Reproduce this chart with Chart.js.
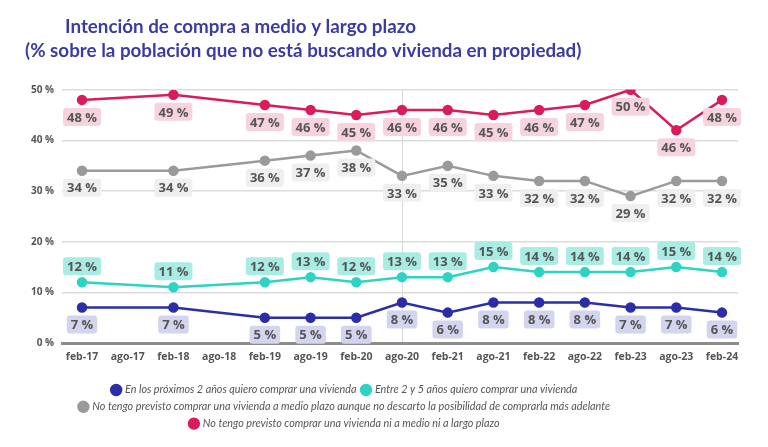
<!DOCTYPE html>
<html>
<head>
<meta charset="utf-8">
<script src="https://cdn.jsdelivr.net/npm/chart.js@4.4.1/dist/chart.umd.min.js"></script>
<style>
  html, body { margin: 0; padding: 0; background: #fff; }
</style>
</head>
<body>
<canvas id="compraChart" width="768" height="447"></canvas>
<script>
const periods = ['feb-17','ago-17','feb-18','ago-18','feb-19','ago-19','feb-20','ago-20','feb-21','ago-21','feb-22','ago-22','feb-23','ago-23','feb-24'];

// % por grupo, null = sin dato en esa oleada
const proximos2 = [7, null, 7, null, 5, 5, 5, 8, 6, 8, 8, 8, 7, 7, 6];
const entre2y5 = [12, null, 11, null, 12, 13, 12, 13, 13, 15, 14, 14, 14, 15, 14];
const noMedioPlazo = [34, null, 34, null, 36, 37, 38, 33, 35, 33, 32, 32, 29, 32, 32];
const noNunca = [48, null, 49, null, 47, 46, 45, 46, 46, 45, 46, 47, 50, 42, 48];
// la etiqueta de ago-23 en el original pone 46 % aunque el punto esta en 42
const noNuncaLabels = ['48 %', '', '49 %', '', '47 %', '46 %', '45 %', '46 %', '46 %', '45 %', '46 %', '47 %', '50 %', '46 %', '48 %'];

const yTicks = [0, 10, 20, 30, 40, 50];

const tituloTxt = 'Intención de compra a medio y largo plazo';
const subtituloTxt = '(% sobre la población que no está buscando vivienda en propiedad)';

function pct(arr) {
    return arr.map(v => v == null ? '' : v + ' %');
}

const labelPlugin = {
    id: 'pctLabels',
    afterDatasetsDraw(chart) {
        const ctx = chart.ctx;
        ctx.save();
        ctx.font = 'bold 13px "Open Sans", sans-serif';
        ctx.textAlign = 'center';
        ctx.textBaseline = 'middle';
        chart.data.datasets.forEach((ds, i) => {
            const meta = chart.getDatasetMeta(i);
            meta.data.forEach((pt, j) => {
                const txt = ds.pctText[j];
                if (!txt) return;
                const w = ctx.measureText(txt).width + 8;
                const h = 18;
                const cy = ds.labelPos === 'above' ? pt.y - 16 : pt.y + 17;
                const x0 = pt.x - w / 2, y0 = cy - h / 2, r = 3;
                ctx.fillStyle = ds.labelBg;
                ctx.beginPath();
                ctx.moveTo(x0 + r, y0);
                ctx.lineTo(x0 + w - r, y0);
                ctx.quadraticCurveTo(x0 + w, y0, x0 + w, y0 + r);
                ctx.lineTo(x0 + w, y0 + h - r);
                ctx.quadraticCurveTo(x0 + w, y0 + h, x0 + w - r, y0 + h);
                ctx.lineTo(x0 + r, y0 + h);
                ctx.quadraticCurveTo(x0, y0 + h, x0, y0 + h - r);
                ctx.lineTo(x0, y0 + r);
                ctx.quadraticCurveTo(x0, y0, x0 + r, y0);
                ctx.fill();
                ctx.fillStyle = '#555555';
                ctx.fillText(txt, pt.x, cy + 1);
            });
        });
        ctx.restore();
    }
};

function moveBox(box, dx, dy) {
    if (!box) return;
    box.left += dx; box.right += dx;
    box.top += dy; box.bottom += dy;
}

// mover titulo, subtitulo y leyenda como en el original
const shiftPlugin = {
    id: 'shiftBoxes',
    afterLayout(chart) {
        chart.boxes.forEach(b => {
            if (!b.options || b === chart.legend) return;
            if (b.options.text === tituloTxt) moveBox(b, 57, 0);
            if (b.options.text === subtituloTxt) moveBox(b, 17, 0);
        });
        moveBox(chart.legend, -28, 7);
    }
};

function serie(label, data, color, bg, pos, texts) {
    return {
        label: label,
        data: data,
        borderColor: color,
        backgroundColor: color,
        pointBackgroundColor: color,
        pointBorderColor: color,
        borderWidth: 2.5,
        pointRadius: 4,
        tension: 0,
        spanGaps: true,
        labelBg: bg,
        labelPos: pos,
        pctText: texts || pct(data)
    };
}

const titleFont = { family: 'Lato', size: 18.8, weight: 'bold', lineHeight: 1.27 };

new Chart(document.getElementById('compraChart'), {
    type: 'line',
    data: {
        labels: periods,
        datasets: [
            serie('En los próximos 2 años quiero comprar una vivienda', proximos2, '#2b2ea6', '#d3d4ee', 'below'),
            serie('Entre 2 y 5 años quiero comprar una vivienda', entre2y5, '#2ed3c3', '#a9ece4', 'above'),
            serie('No tengo previsto comprar una vivienda a medio plazo aunque no descarto la posibilidad de comprarla más adelante', noMedioPlazo, '#9a9a9a', '#efefef', 'below'),
            serie('No tengo previsto comprar una vivienda ni a medio ni a largo plazo', noNunca, '#da1b5c', '#f7d3de', 'below', noNuncaLabels)
        ]
    },
    plugins: [labelPlugin, shiftPlugin],
    options: {
        responsive: false,
        animation: false,
        devicePixelRatio: 1,
        layout: { padding: { left: 8, right: 30, top: 10, bottom: 15 } },
        plugins: {
            title: {
                display: true,
                text: tituloTxt,
                align: 'start',
                color: '#3b3ba4',
                font: titleFont,
                padding: { top: 5, bottom: 0 }
            },
            subtitle: {
                display: true,
                text: subtituloTxt,
                align: 'start',
                color: '#3b3ba4',
                font: titleFont,
                padding: { top: 0, bottom: 27 }
            },
            legend: {
                position: 'bottom',
                labels: {
                    usePointStyle: true,
                    pointStyle: 'circle',
                    boxWidth: 7,
                    boxHeight: 7,
                    padding: 6,
                    color: '#555555',
                    font: { family: 'Lato', size: 10.8, style: 'italic' }
                }
            },
            tooltip: { enabled: false }
        },
        scales: {
            x: {
                offset: false,
                // deja un margen a cada lado como en el original
                afterBuildTicks: s => { s._startValue = -0.4375; s._valueRange = 14.7875; },
                grid: {
                    color: c => c.index === 7 ? '#d8d8d8' : 'rgba(0,0,0,0)',
                    drawTicks: false
                },
                border: { color: '#8c8c8c', width: 3 },
                ticks: {
                    color: '#555555',
                    font: { family: 'Open Sans', size: 10.5, weight: 'bold' },
                    padding: 8,
                    maxRotation: 0,
                    autoSkip: false
                }
            },
            y: {
                min: 0,
                max: 50,
                afterFit: s => { s.width = 54; },
                afterBuildTicks: s => { s.ticks = yTicks.map(v => ({ value: v })); },
                grid: {
                    color: c => c.tick.value === 0 ? 'rgba(0,0,0,0)' : '#dcdcdc',
                    lineWidth: 1.5,
                    drawTicks: false
                },
                border: { display: false },
                ticks: {
                    color: '#555555',
                    font: { family: 'Open Sans', size: 10, weight: 'bold' },
                    padding: 8,
                    callback: v => v + ' %'
                }
            }
        }
    }
});
</script>
</body>
</html>
